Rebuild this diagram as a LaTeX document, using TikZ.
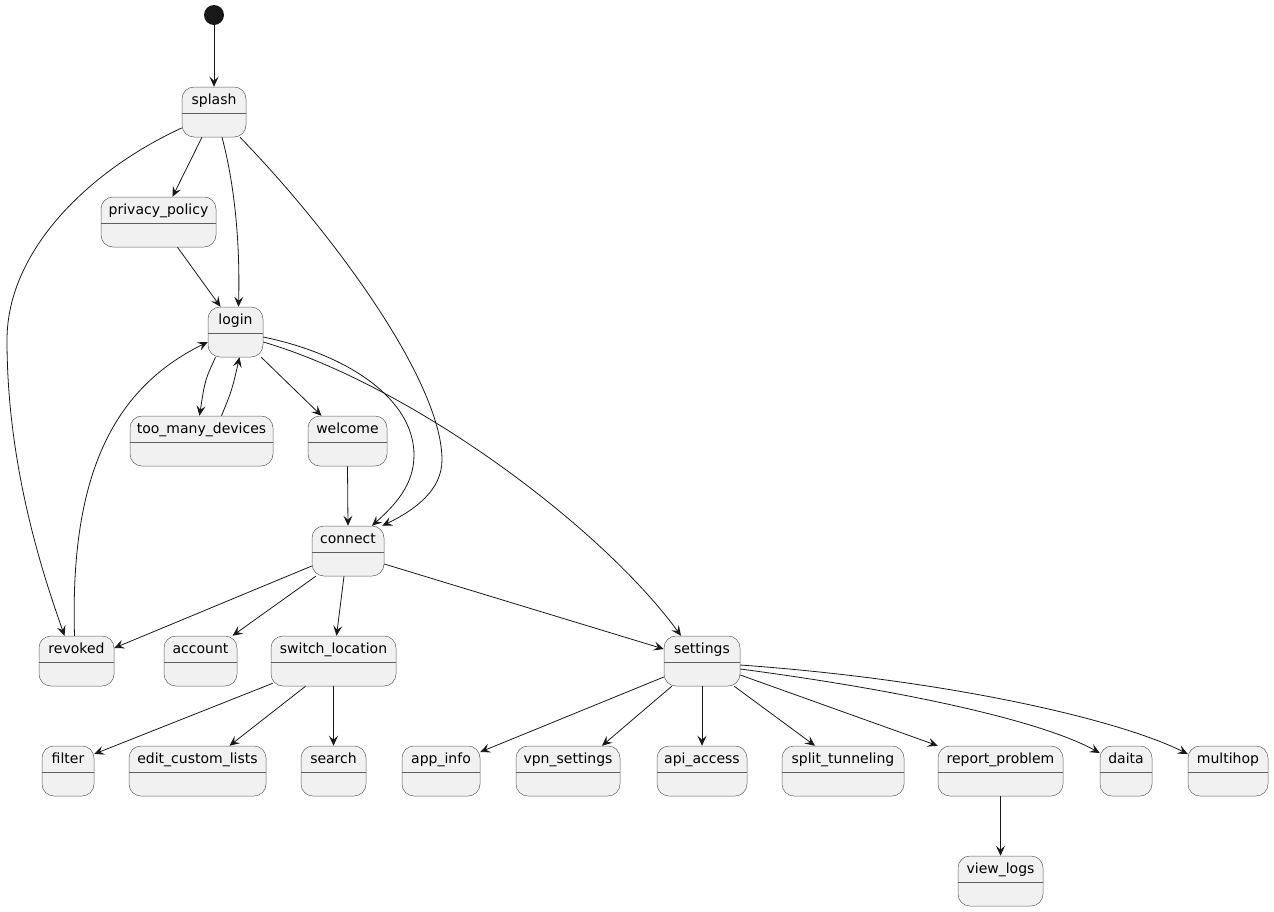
\documentclass[tikz,border=0pt]{standalone}
\usepackage{fontspec}
\setmainfont{DejaVu Sans}
\usetikzlibrary{arrows.meta}
\definecolor{stfill}{HTML}{F1F1F1}
\definecolor{stdraw}{HTML}{5E5E5E}
\definecolor{edgecol}{HTML}{181818}
\tikzset{
  statebox/.style={draw=stdraw,fill=stfill,line width=0.5pt,rounded corners=12pt,minimum height=50pt,inner sep=0pt},
  stateline/.style={-,draw=stdraw,line width=0.5pt},
  statelabel/.style={font=\fontsize{14}{16}\selectfont,text=black,inner sep=0pt,text height=10pt,text depth=3pt},
  startdot/.style={circle,fill=edgecol,minimum size=20pt,inner sep=0pt}
}
\newcommand{\mkstate}[5]{%
  \node[statebox,minimum width=#4pt] (#1) at ({#2+#4/2},{#3+25}) {};
  \draw[stateline] ([yshift=-26pt]#1.north west) -- ([yshift=-26pt]#1.north east);
  \node[statelabel] at ([yshift=-14.5pt]#1.north) {#5};
}
\newcommand{\trans}[2]{\path (#1) edge (#2); }
\begin{document}
\begin{tikzpicture}[x=1pt,y=-1pt,->,>={Stealth[length=10pt,width=9pt,inset=4pt]},line width=0.8pt,color=edgecol]
  \useasboundingbox (0,0) rectangle (1274,911);
  \node[startdot] (start) at (214,15) {};
  \mkstate{splash}{182}{87}{64}{splash}
  \mkstate{privacy}{101}{197}{115}{privacy\_policy}
  \mkstate{login}{208}{307}{55}{login}
  \mkstate{toomany}{130}{416}{143}{too\_many\_devices}
  \mkstate{welcome}{308}{416}{79}{welcome}
  \mkstate{connect}{312}{526}{72}{connect}
  \mkstate{revoked}{39}{636}{75}{revoked}
  \mkstate{account}{164}{636}{73}{account}
  \mkstate{switchloc}{271}{636}{125}{switch\_location}
  \mkstate{settings}{664}{636}{76}{settings}
  \mkstate{filter}{42}{746}{52}{filter}
  \mkstate{editlists}{129}{746}{137}{edit\_custom\_lists}
  \mkstate{search}{301}{746}{65}{search}
  \mkstate{appinfo}{402}{746}{78}{app\_info}
  \mkstate{vpn}{516}{746}{104}{vpn\_settings}
  \mkstate{api}{657}{746}{90}{api\_access}
  \mkstate{split}{782}{746}{122}{split\_tunneling}
  \mkstate{report}{938}{746}{125}{report\_problem}
  \mkstate{daita}{1100}{746}{52}{daita}
  \mkstate{multihop}{1188}{746}{80}{multihop}
  \mkstate{viewlogs}{958}{856}{85}{view\_logs}
  \trans{start}{splash}
  \trans{[xshift=-12pt]splash.south}{[xshift=14pt]privacy.north}
  \draw ([xshift=8pt]splash.south) .. controls (236,190) and (240,250) .. ([xshift=3pt]login.north);
  \draw ([yshift=-16pt]splash.west) .. controls (90,170) and (7,250) .. (7,340) .. controls (7,470) and (45,580) .. ([xshift=-12pt]revoked.north);
  \draw ([xshift=26pt]splash.south) .. controls (330,230) and (442,380) .. (442,460) .. controls (442,490) and (415,510) .. ([xshift=-2pt]connect.north east);
  \trans{[xshift=19pt]privacy.south}{[xshift=-15pt]login.north}
  \draw ([xshift=-20pt]login.south) .. controls (205,380) .. ([xshift=-2pt]toomany.north);
  \draw ([xshift=20pt]toomany.north) .. controls (232,390) .. ([xshift=4pt]login.south);
  \trans{[xshift=-2pt]login.south east}{[xshift=-26pt]welcome.north}
  \draw ([yshift=-5pt]login.east) .. controls (350,355) and (414,400) .. (414,455) .. controls (414,485) and (395,505) .. ([xshift=24pt]connect.north);
  \draw ([yshift=-10pt]login.east) .. controls (410,385) and (600,525) .. ([xshift=-21pt]settings.north);
  \draw ([xshift=-2pt]revoked.north) .. controls (70,480) and (110,390) .. ([yshift=-10pt]login.west);
  \trans{welcome.south}{connect.north}
  \trans{[yshift=-15pt]connect.west}{[yshift=13pt]revoked.east}
  \trans{[xshift=4pt]connect.south west}{[xshift=32pt]account.north}
  \trans{[xshift=-4pt]connect.south}{[xshift=3pt]switchloc.north}
  \trans{[yshift=-13pt]connect.east}{[yshift=12pt]settings.west}
  \trans{[xshift=2pt,yshift=3pt]switchloc.south west}{[yshift=17pt]filter.east}
  \trans{[xshift=-28pt]switchloc.south}{[xshift=32pt]editlists.north}
  \trans{switchloc.south}{search.north}
  \trans{[yshift=-16pt]settings.west}{[yshift=19pt]appinfo.east}
  \trans{[xshift=8pt]settings.south west}{[xshift=34pt]vpn.north}
  \trans{settings.south}{api.north}
  \trans{[xshift=-6pt]settings.south east}{[xshift=-28pt]split.north}
  \trans{[yshift=-14pt]settings.east}{report.north west}
  \draw ([yshift=-8pt]settings.east) .. controls (900,690) and (1040,720) .. ([yshift=18pt]daita.west);
  \draw ([yshift=-4pt]settings.east) .. controls (950,680) and (1120,720) .. ([yshift=17pt]multihop.west);
  \trans{report.south}{viewlogs.north}
\end{tikzpicture}
\end{document}
